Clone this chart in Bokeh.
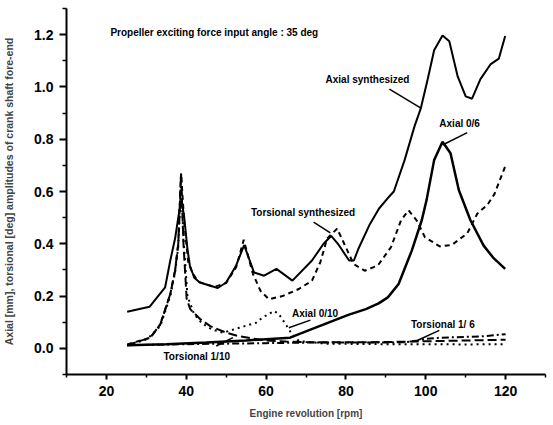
from bokeh.plotting import figure
from bokeh.embed import file_html
from bokeh.resources import INLINE
from bokeh.models import FixedTicker, PrintfTickFormatter
from bokeh.core.properties import value

# ---- data ----
axial_synth_x = [25.2, 30.8, 34.7, 36.0, 37.2, 38.0, 38.8, 39.5, 40.3, 40.9, 42.0, 43.4, 47.9, 50.0, 52.5,
                 54.5, 57.0, 59.5, 62.6, 66.6, 71.5, 74.4, 76.3, 78.0, 80.8, 82.0, 83.1, 86.0, 88.3, 90.5,
                 92.0, 94.7, 97.2, 98.8, 100.5, 102.1, 104.2, 105.9, 108.0, 110.0, 111.6, 113.7, 116.2,
                 118.3, 119.9]
axial_synth_y = [0.140, 0.159, 0.233, 0.336, 0.420, 0.500, 0.570, 0.500, 0.380, 0.317, 0.270, 0.252, 0.231,
                 0.252, 0.317, 0.395, 0.290, 0.278, 0.304, 0.259, 0.336, 0.400, 0.430, 0.400, 0.336, 0.336,
                 0.380, 0.475, 0.535, 0.575, 0.600, 0.720, 0.850, 0.920, 1.030, 1.140, 1.197, 1.175, 1.040,
                 0.964, 0.955, 1.030, 1.086, 1.108, 1.195]

tors_synth_x = [25.2, 31.0, 33.5, 36.0, 37.2, 38.0, 38.7, 39.5, 40.5, 41.5, 43.0, 47.0, 50.0, 52.5, 54.4,
                56.7, 58.6, 60.7, 64.1, 68.2, 71.5, 73.6, 75.3, 77.8, 79.4, 81.9, 84.7, 88.0, 91.3, 93.8,
                95.7, 97.7, 99.8, 103.5, 106.5, 110.4, 112.9, 115.5, 117.2, 120.0]
tors_synth_y = [0.015, 0.041, 0.092, 0.208, 0.297, 0.400, 0.670, 0.480, 0.330, 0.290, 0.255, 0.235, 0.250,
                0.310, 0.415, 0.285, 0.220, 0.188, 0.200, 0.227, 0.259, 0.330, 0.420, 0.458, 0.406, 0.323,
                0.297, 0.317, 0.387, 0.490, 0.528, 0.490, 0.425, 0.390, 0.395, 0.440, 0.515, 0.550, 0.590,
                0.700]

tors_110_x = [25.2, 31.0, 33.5, 36.0, 37.2, 38.0, 38.7, 39.3, 40.1, 41.0, 43.4, 46.0, 50.0, 53.0, 56.6,
              60.0, 65.0, 70.0, 80.0, 90.0, 100.0, 110.0, 120.0]
tors_110_y = [0.012, 0.041, 0.092, 0.208, 0.297, 0.400, 0.670, 0.400, 0.190, 0.150, 0.113, 0.085, 0.060,
              0.047, 0.038, 0.030, 0.026, 0.024, 0.023, 0.024, 0.027, 0.030, 0.033]

axial_010_x = [25.2, 30.2, 33.5, 36.0, 37.2, 38.0, 38.7, 39.3, 40.3, 42.0, 44.0, 46.5, 49.2, 53.3, 57.5,
               59.1, 62.0, 63.2, 64.9, 66.5, 68.2, 75.0, 90.0, 100.0, 110.0, 120.0]
axial_010_y = [0.012, 0.035, 0.085, 0.200, 0.290, 0.390, 0.640, 0.420, 0.200, 0.130, 0.095, 0.072, 0.060,
               0.079, 0.098, 0.118, 0.143, 0.131, 0.092, 0.054, 0.028, 0.018, 0.016, 0.016, 0.015, 0.016]

tors_16_x = [25.2, 40.0, 60.0, 70.0, 80.0, 90.0, 95.0, 98.0, 100.0, 103.0, 106.0, 110.0, 114.0, 117.0, 120.0]
tors_16_y = [0.012, 0.016, 0.020, 0.022, 0.022, 0.022, 0.024, 0.030, 0.036, 0.040, 0.042, 0.044, 0.046,
             0.050, 0.054]

axial_06_x = [25.2, 35.0, 45.0, 55.0, 60.0, 63.0, 66.0, 72.4, 80.6, 85.0, 88.2, 90.5, 93.2, 96.5, 99.0,
              100.2, 102.1, 104.2, 106.2, 108.3, 111.2, 114.5, 117.0, 119.9]
axial_06_y = [0.012, 0.016, 0.022, 0.030, 0.035, 0.038, 0.041, 0.079, 0.128, 0.150, 0.172, 0.195, 0.246,
              0.374, 0.490, 0.567, 0.720, 0.790, 0.746, 0.605, 0.490, 0.393, 0.345, 0.304]

x_ticks = [20, 40, 60, 80, 100, 120]
y_ticks = [0.0, 0.2, 0.4, 0.6, 0.8, 1.0, 1.2]

title_text = "Propeller exciting force input angle : 35 deg"
label_texts = ["Axial synthesized", "Axial  0/6", "Torsional synthesized", "Torsional  1/10",
               "Axial  0/10", "Torsional  1/ 6"]
label_x = [74.9, 103.4, 56.2, 34.3, 66.5, 96.3]
label_y = [1.028, 0.859, 0.520, -0.033, 0.133, 0.090]
lead_x0 = [90.9, 110.4, 71.9, 47.5, 71.1, 103.4]
lead_y0 = [0.992, 0.825, 0.483, 0.009, 0.108, 0.069]
lead_x1 = [98.8, 104.2, 76.1, 51.7, 65.7, 98.0]
lead_y1 = [0.919, 0.778, 0.442, 0.041, 0.079, 0.031]

FONT = "Liberation Sans"

p = figure(width=548, height=421, x_range=(10, 130), y_range=(-0.1, 1.3),
           output_backend="svg", toolbar_location=None,
           min_border_left=65, min_border_right=3, min_border_top=8, min_border_bottom=47)
p.outline_line_color = None
p.xgrid.visible = False
p.ygrid.visible = False
p.background_fill_color = "white"

p.line(axial_synth_x, axial_synth_y, line_color="black", line_width=2)
p.line(tors_synth_x, tors_synth_y, line_color="black", line_width=2, line_dash="5 4")
p.line(tors_110_x, tors_110_y, line_color="black", line_width=2, line_dash="9 4")
p.line(axial_010_x, axial_010_y, line_color="black", line_width=2, line_dash="2 4")
p.line(tors_16_x, tors_16_y, line_color="black", line_width=2, line_dash="7 3 2 3")
p.line(axial_06_x, axial_06_y, line_color="black", line_width=2.5)

p.segment(lead_x0, lead_y0, lead_x1, lead_y1, line_color="black", line_width=1.5)
p.text(label_x, label_y, text=label_texts, text_font=value(FONT), text_font_style="bold",
       text_font_size="10px", text_baseline="middle", text_align="left", text_color="black")
p.text([21.0], [1.21], text=[title_text], text_font=value(FONT), text_font_style="bold",
       text_font_size="10px", text_baseline="middle", text_align="left", text_color="black")

for ax in (p.xaxis[0], p.yaxis[0]):
    ax.axis_line_width = 2
    ax.major_tick_line_width = 2
    ax.minor_tick_line_width = 1.5
    ax.major_tick_in = 0
    ax.minor_tick_in = 0
    ax.major_label_text_font = FONT
    ax.major_label_text_font_style = "bold"
    ax.major_label_text_font_size = "14px"
    ax.axis_label_text_font = FONT
    ax.axis_label_text_font_style = "bold"
    ax.major_label_text_color = "black"

p.xaxis.ticker = FixedTicker(ticks=x_ticks, minor_ticks=[10, 30, 50, 70, 90, 110, 130])
p.yaxis.ticker = FixedTicker(ticks=y_ticks, minor_ticks=[-0.1, 0.1, 0.3, 0.5, 0.7, 0.9, 1.1, 1.3])
p.yaxis.formatter = PrintfTickFormatter(format="%.1f")
p.xaxis.axis_label = "Engine revolution [rpm]"
p.yaxis.axis_label = "Axial [mm], torsional [deg] amplitudes of crank shaft fore-end"
p.xaxis.axis_label_text_font_size = "10px"
p.yaxis.axis_label_text_font_size = "10.5px"
p.xaxis.major_tick_out = 5
p.xaxis.minor_tick_out = 3
p.yaxis.major_tick_out = 7
p.yaxis.minor_tick_out = 4
p.xaxis.major_label_standoff = 6
p.yaxis.major_label_standoff = 6
p.xaxis.axis_label_standoff = 9
p.yaxis.axis_label_standoff = 16

open("out.html", "w").write(file_html(p, INLINE))
